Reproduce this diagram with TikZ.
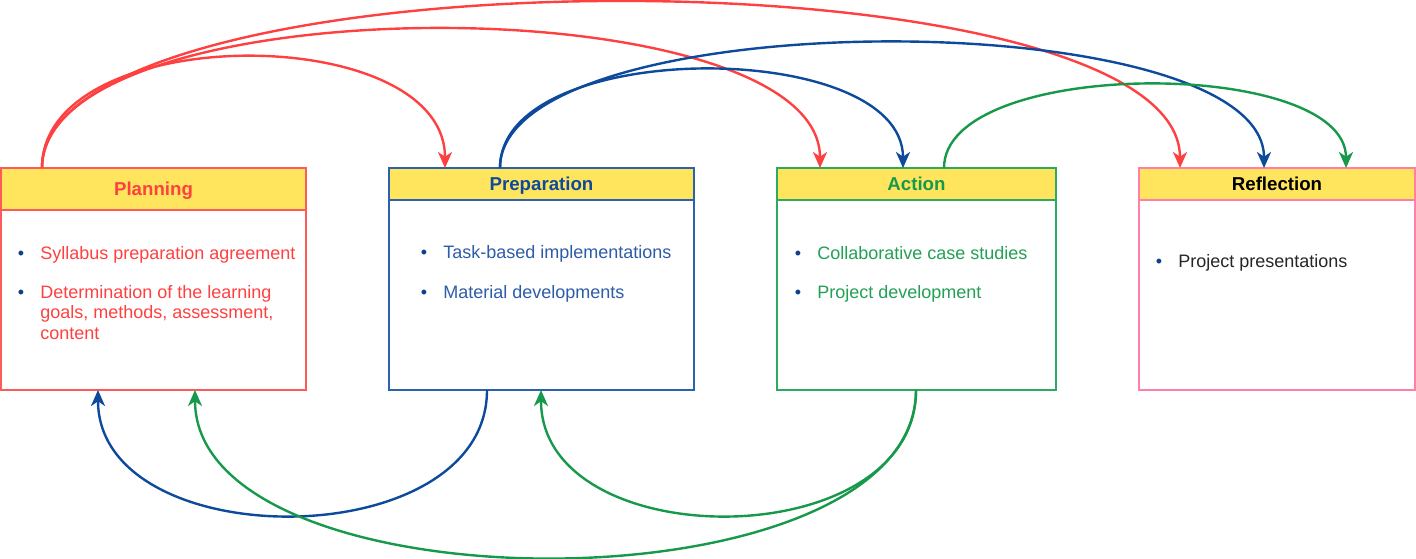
\documentclass[tikz,border=0pt]{standalone}
\usepackage{fontspec}
\setmainfont{Liberation Sans}
\usetikzlibrary{arrows.meta,calc}
\definecolor{planred}{HTML}{FF4040}
\definecolor{planedge}{HTML}{FF5A5A}
\definecolor{prepblue}{HTML}{0E4A9C}
\definecolor{preptext}{HTML}{2D5CA8}
\definecolor{prepedge}{HTML}{2A62AE}
\definecolor{actgreen}{HTML}{17994B}
\definecolor{acttext}{HTML}{22A055}
\definecolor{actedge}{HTML}{2EAA60}
\definecolor{reflpink}{HTML}{FF7FA6}
\definecolor{headyellow}{HTML}{FFE45E}
\definecolor{bulletblue}{HTML}{123F8C}
\newcommand{\pxl}{0.75pt}
\newcommand{\bul}{\llap{\textcolor{bulletblue}{\textbullet}\hspace{12pt}}}

\tikzset{
  head/.style={draw, fill=headyellow, line width=1pt, minimum height=32*\pxl,
    inner sep=0pt, outer sep=0pt, text height=10pt, text depth=0.5pt,
    font=\fontsize{14}{16}\selectfont\bfseries},
  panel/.style={draw, fill=white, line width=1pt, minimum height=190*\pxl,
    inner sep=0pt, outer sep=0pt, anchor=north},
  item/.style={anchor=base west, inner sep=0pt, align=left,
    font=\fontsize{13.5}{15.4}\selectfont},
  link/.style={line width=1.8pt, -{Stealth[length=12pt,width=10.5pt,inset=3.5pt]}},
}

\begin{document}
\begin{tikzpicture}[x=0.75pt, y=-0.75pt]
    \useasboundingbox (0,0) rectangle (1416,558);
    % boxes
    % planning
    \node[head, draw=planedge, text=planred, minimum width=305*\pxl, minimum height=42*\pxl] (plan) at (153.5,189) {Planning};
    \node[panel, draw=planedge, minimum width=305*\pxl, minimum height=180*\pxl] (planbody) at (plan.south) {};
    % preparation
    \node[head, draw=prepedge, text=prepblue, minimum width=305*\pxl] (prep) at (541.5,184) {Preparation};
    \node[panel, draw=prepedge, minimum width=305*\pxl] (prepbody) at (prep.south) {};
    % action
    \node[head, draw=actedge, text=actgreen, minimum width=279*\pxl] (act) at (916.5,184) {Action};
    \node[panel, draw=actedge, minimum width=279*\pxl] (actbody) at (act.south) {};
    % reflection
    \node[head, draw=reflpink, text=black, minimum width=276*\pxl] (refl) at (1277,184) {Reflection};
    \node[panel, draw=reflpink, minimum width=276*\pxl] (reflbody) at (refl.south) {};
    % bullet items (base of a wrapped item is its last line)
    \node[item, text=planred] (plan1) at (40,259) {\bul Syllabus preparation agreement};
    \node[item, text=planred] (plan2) at (40,339.5) {\bul Determination of the learning\\goals, methods, assessment,\\content};
    \node[item, text=preptext] (prep1) at (443,258.5) {\bul Task-based implementations};
    \node[item, text=preptext] (prep2) at (443,298) {\bul Material developments};
    \node[item, text=acttext] (act1) at (817,259) {\bul Collaborative case studies};
    \node[item, text=acttext] (act2) at (817,298) {\bul Project development};
    \node[item, text=black!85] (refl1) at (1178,267) {\bul Project presentations};
    % connectors over the top
    \draw[link, planred] ($(plan.north west)+(41,0)$) .. controls +(0,-148) and +(0,-148) .. ($(prep.north west)+(56,0)$);
    \draw[link, planred] ($(plan.north west)+(41,0)$) .. controls +(0,-185) and +(0,-185) .. ($(act.north west)+(43,0)$);
    \draw[link, planred] ($(plan.north west)+(41,0)$) .. controls +(0,-221) and +(0,-221) .. ($(refl.north west)+(41,0)$);
    \draw[link, prepblue] ($(prep.north west)+(111,0)$) .. controls +(0,-131) and +(0,-131) .. ($(act.north west)+(126,0)$);
    \draw[link, prepblue] ($(prep.north west)+(111,0)$) .. controls +(0,-167) and +(0,-167) .. ($(refl.north west)+(125,0)$);
    \draw[link, actgreen] ($(act.north west)+(167,0)$) .. controls +(0,-111) and +(0,-111) .. ($(refl.north west)+(207,0)$);
    % connectors under the boxes
    \draw[link, prepblue] ($(prepbody.south west)+(98,0)$) .. controls +(0,167) and +(0,167) .. ($(planbody.south west)+(97,0)$);
    \draw[link, actgreen] ($(actbody.south west)+(139,0)$) .. controls +(0,167) and +(0,167) .. ($(prepbody.south west)+(152,0)$);
    \draw[link, actgreen] ($(actbody.south west)+(139,0)$) .. controls +(0,223) and +(0,223) .. ($(planbody.south west)+(194,0)$);
\end{tikzpicture}
\end{document}
